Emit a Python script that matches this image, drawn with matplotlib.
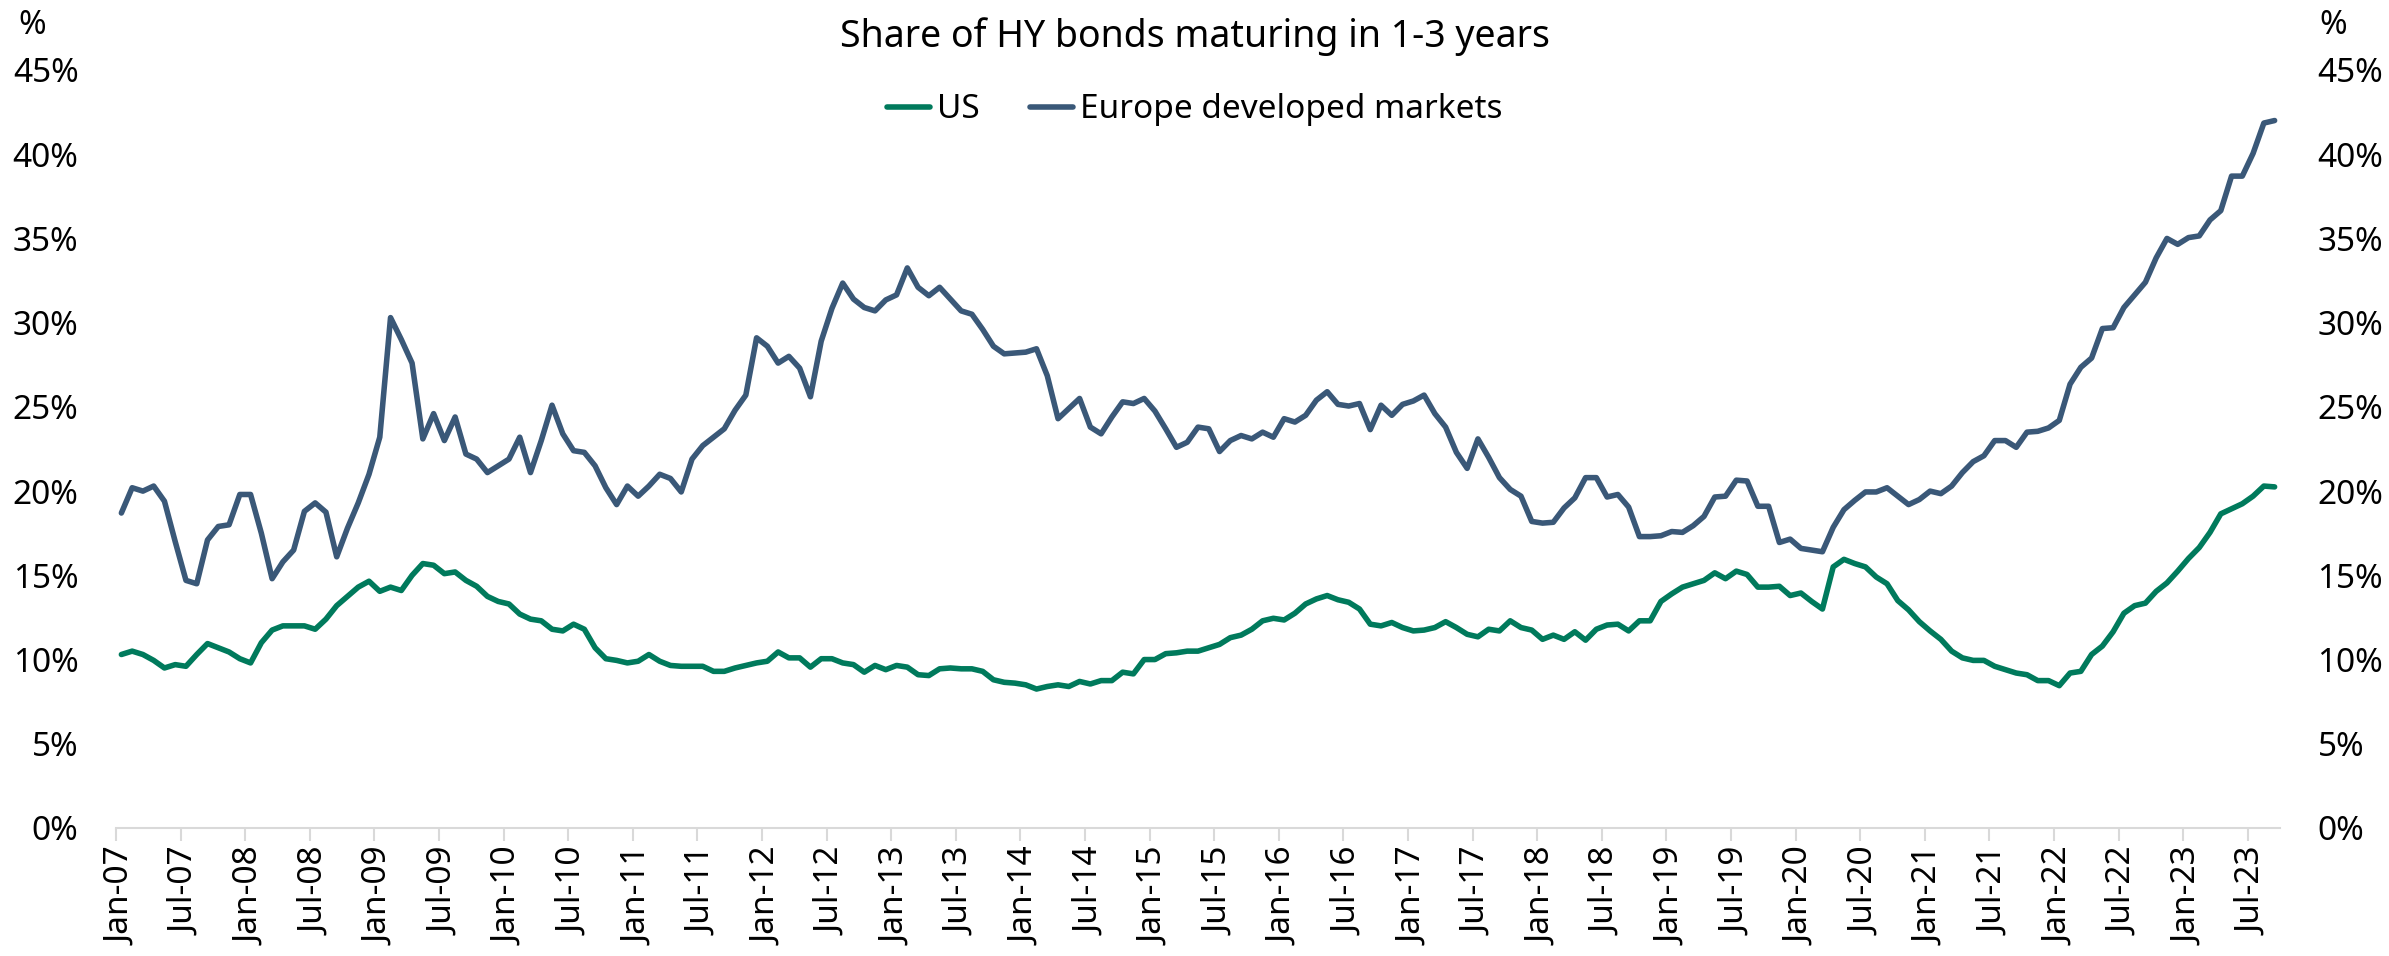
import numpy as np
import pandas as pd
import matplotlib
matplotlib.use("Agg")
import matplotlib.pyplot as plt

# monthly, Jan-07 .. Sep-23
months = pd.date_range("2007-01-01", periods=201, freq="MS")

us = [10.3, 10.5, 10.3, 9.95, 9.5, 9.7, 9.6, 10.3, 10.95, 10.7, 10.45, 10.05, 9.8, 11.0, 11.75, 12.0, 12.0, 12.0, 11.8, 12.4,
      13.2, 13.75, 14.3, 14.65, 14.05, 14.3, 14.1, 15.0, 15.7, 15.6, 15.1, 15.2, 14.7, 14.35, 13.75, 13.45, 13.3, 12.7, 12.4, 12.3,
      11.8, 11.7, 12.1, 11.8, 10.7, 10.05, 9.95, 9.8, 9.9, 10.3, 9.9, 9.65, 9.6, 9.6, 9.6, 9.3, 9.3, 9.5, 9.65, 9.8,
      9.9, 10.45, 10.1, 10.1, 9.55, 10.05, 10.05, 9.8, 9.7, 9.25, 9.65, 9.4, 9.65, 9.55, 9.1, 9.05, 9.45, 9.5, 9.45, 9.45,
      9.3, 8.8, 8.65, 8.6, 8.5, 8.25, 8.4, 8.5, 8.4, 8.7, 8.55, 8.75, 8.75, 9.25, 9.15, 10.0, 10.0, 10.35, 10.4, 10.5,
      10.5, 10.7, 10.9, 11.3, 11.45, 11.8, 12.3, 12.45, 12.35, 12.75, 13.3, 13.6, 13.8, 13.55, 13.4, 13.0, 12.1, 12.0, 12.2, 11.9,
      11.7, 11.75, 11.9, 12.25, 11.9, 11.5, 11.35, 11.8, 11.7, 12.3, 11.9, 11.75, 11.2, 11.45, 11.2, 11.65, 11.15, 11.8, 12.05, 12.1,
      11.7, 12.3, 12.3, 13.45, 13.9, 14.3, 14.5, 14.7, 15.15, 14.8, 15.25, 15.05, 14.3, 14.3, 14.35, 13.8, 13.95, 13.45, 13.0, 15.5,
      15.95, 15.7, 15.5, 14.9, 14.5, 13.5, 12.95, 12.25, 11.7, 11.2, 10.5, 10.1, 9.95, 9.95, 9.6, 9.4, 9.2, 9.1, 8.75, 8.75,
      8.45, 9.2, 9.3, 10.3, 10.8, 11.65, 12.75, 13.2, 13.35, 14.05, 14.55, 15.25, 16.0, 16.65, 17.55, 18.65, 18.95, 19.25, 19.7, 20.3,
      20.25]

europe = [18.7, 20.2, 20.0, 20.3, 19.4, 17.0, 14.7, 14.5, 17.1, 17.9, 18.0, 19.8, 19.8, 17.5, 14.8, 15.8, 16.5, 18.8, 19.3, 18.75,
          16.1, 17.8, 19.3, 21.0, 23.2, 30.3, 29.0, 27.6, 23.1, 24.6, 23.0, 24.4, 22.2, 21.9, 21.1, 21.5, 21.9, 23.2, 21.1, 23.0,
          25.1, 23.4, 22.4, 22.3, 21.5, 20.2, 19.2, 20.3, 19.7, 20.3, 21.0, 20.75, 19.95, 21.9, 22.7, 23.2, 23.7, 24.8, 25.7, 29.1,
          28.6, 27.6, 28.0, 27.3, 25.6, 28.9, 30.85, 32.35, 31.4, 30.9, 30.7, 31.35, 31.65, 33.25, 32.1, 31.6, 32.1, 31.4, 30.7, 30.5,
          29.6, 28.6, 28.15, 28.2, 28.25, 28.45, 26.85, 24.3, 24.9, 25.5, 23.8, 23.4, 24.4, 25.3, 25.2, 25.5, 24.75, 23.7, 22.6, 22.9,
          23.8, 23.7, 22.35, 23.0, 23.3, 23.1, 23.5, 23.2, 24.3, 24.1, 24.5, 25.4, 25.9, 25.15, 25.05, 25.2, 23.65, 25.1, 24.5, 25.15,
          25.35, 25.7, 24.6, 23.8, 22.3, 21.35, 23.1, 22.0, 20.8, 20.1, 19.7, 18.2, 18.1, 18.15, 19.0, 19.6, 20.8, 20.8, 19.65, 19.8,
          19.05, 17.3, 17.3, 17.35, 17.6, 17.55, 17.95, 18.5, 19.65, 19.7, 20.65, 20.6, 19.1, 19.1, 16.95, 17.15, 16.6, 16.5, 16.4, 17.85,
          18.9, 19.45, 19.95, 19.95, 20.2, 19.7, 19.2, 19.5, 20.0, 19.85, 20.3, 21.1, 21.75, 22.1, 23.0, 23.0, 22.6, 23.5, 23.55, 23.75,
          24.2, 26.35, 27.35, 27.9, 29.65, 29.7, 30.9, 31.65, 32.4, 33.85, 35.0, 34.65, 35.05, 35.15, 36.1, 36.65, 38.7, 38.7, 40.05, 41.85,
          42.0]

yticks = list(range(0, 46, 5))

US_COLOR = "#007A5C"
EU_COLOR = "#3A5878"
FONT = ["Noto Sans", "DejaVu Sans"]

plt.rcParams["font.family"] = FONT

W, H = 2389, 956
fig = plt.figure(figsize=(W / 100, H / 100), dpi=100)
ax = fig.add_axes([116 / W, 128 / H, (2280 - 116) / W, (886 - 128) / H])

x = np.arange(len(months)) + 0.5
ax.plot(x, us, color=US_COLOR, lw=4, label="US", solid_joinstyle="round", solid_capstyle="round")
ax.plot(x, europe, color=EU_COLOR, lw=4, label="Europe developed markets",
        solid_joinstyle="round", solid_capstyle="round")

ax.set_xlim(0, len(months))
ax.set_ylim(0, 45)

ax.set_yticks(yticks)
ax.set_yticklabels([f"{v}%" for v in yticks])
ax.tick_params(axis="y", length=0, labelleft=True, labelright=True, labelsize=24, pad=27)

# tick marks at period boundaries, labels centred on the month
tick_idx = np.arange(0, len(months), 6)
ax.set_xticks(tick_idx, minor=True)
ax.set_xticks(tick_idx + 0.5)
ax.set_xticklabels([months[i].strftime("%b-%y") for i in tick_idx], rotation=90)
ax.tick_params(axis="x", which="major", length=0, labelsize=24, pad=14)
ax.tick_params(axis="x", which="minor", length=9, width=1.5, color="#d9d9d9")

for s in ["top", "left", "right"]:
    ax.spines[s].set_visible(False)
ax.spines["bottom"].set_color("#d9d9d9")
ax.spines["bottom"].set_linewidth(1.5)

fig.text(0.5, 1 - 37 / H, "Share of HY bonds maturing in 1-3 years", ha="center", va="center", fontsize=27)
fig.text(18 / W, 1 - 26 / H, "%", ha="left", va="center", fontsize=24)
fig.text(2319 / W, 1 - 26 / H, "%", ha="left", va="center", fontsize=24)

fig.legend(loc="center", bbox_to_anchor=(0.5, 1 - 110 / H), ncol=2, frameon=False, fontsize=24,
           handlelength=1.3, handletextpad=0.2, columnspacing=1.5)

fig.savefig("out.png", dpi=100)
